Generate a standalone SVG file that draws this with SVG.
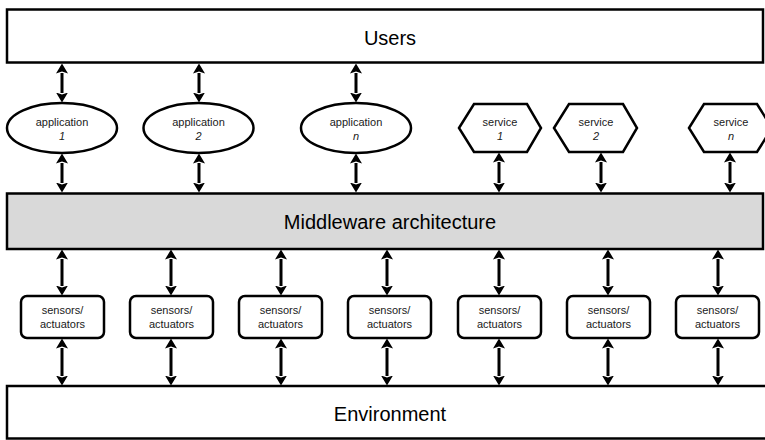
<svg xmlns="http://www.w3.org/2000/svg" width="765" height="440" viewBox="0 0 765 440">
  <style>
    .layer { fill: #ffffff; stroke: #000000; stroke-width: 2.5; }
    .mid { fill: #d9d9d9; stroke: #000000; stroke-width: 2.5; }
    .shape { fill: #ffffff; stroke: #000000; stroke-width: 2.5; }
    .big { font-family: "Liberation Sans", Arial, sans-serif; font-size: 20px; fill: #000000; text-anchor: middle; }
    .small { font-family: "Liberation Sans", Arial, sans-serif; font-size: 11px; fill: #1a1a1a; text-anchor: middle; }
    .idx { font-style: italic; }
    .link { stroke: #000000; stroke-width: 3; fill: none; marker-start: url(#head); marker-end: url(#head); }
  </style>
  <defs>
    <marker id="head" markerUnits="userSpaceOnUse" markerWidth="10" markerHeight="12" viewBox="0 0 10 12" refX="0.5" refY="6" orient="auto-start-reverse">
      <path d="M0,0 L10,6 L0,12 L2,6 z" fill="#000000"/>
    </marker>
  </defs>

  <!-- top layer -->
  <g id="users">
    <rect class="layer" x="7" y="9.5" width="756" height="53"/>
    <text class="big" x="390" y="45">Users</text>
  </g>

  <!-- applications -->
  <g id="app1">
    <ellipse class="shape" cx="62" cy="128" rx="55" ry="25"/>
    <text class="small" x="62" y="126">application</text>
    <text class="small idx" x="62" y="140">1</text>
  </g>
  <g id="app2">
    <ellipse class="shape" cx="198.5" cy="128" rx="55" ry="25"/>
    <text class="small" x="198.5" y="126">application</text>
    <text class="small idx" x="198.5" y="140">2</text>
  </g>
  <g id="appn">
    <ellipse class="shape" cx="356" cy="128" rx="55" ry="25"/>
    <text class="small" x="356" y="126">application</text>
    <text class="small idx" x="356" y="140">n</text>
  </g>

  <!-- services -->
  <g id="service1">
    <polygon class="shape" points="459,128 474,104 527,104 541,128 527,152 474,152"/>
    <text class="small" x="500" y="126">service</text>
    <text class="small idx" x="500" y="140">1</text>
  </g>
  <g id="service2">
    <polygon class="shape" points="554,128 569,104 623,104 637,128 623,152 569,152"/>
    <text class="small" x="596" y="126">service</text>
    <text class="small idx" x="596" y="140">2</text>
  </g>
  <g id="servicen">
    <polygon class="shape" points="689,128 704,104 757,104 772,128 757,152 704,152"/>
    <text class="small" x="731" y="126">service</text>
    <text class="small idx" x="731" y="140">n</text>
  </g>

  <!-- middleware layer -->
  <g id="middleware">
    <rect class="mid" x="7" y="193.5" width="756" height="55.5"/>
    <text class="big" x="390" y="229">Middleware architecture</text>
  </g>

  <!-- sensors / actuators -->
  <g id="sa1">
    <rect class="shape" x="21" y="296" width="83" height="42" rx="6"/>
    <text class="small" x="62.5" y="314">sensors/</text>
    <text class="small" x="62.5" y="328">actuators</text>
  </g>
  <g id="sa2">
    <rect class="shape" x="130" y="296" width="83" height="42" rx="6"/>
    <text class="small" x="171.5" y="314">sensors/</text>
    <text class="small" x="171.5" y="328">actuators</text>
  </g>
  <g id="sa3">
    <rect class="shape" x="239" y="296" width="83" height="42" rx="6"/>
    <text class="small" x="280.5" y="314">sensors/</text>
    <text class="small" x="280.5" y="328">actuators</text>
  </g>
  <g id="sa4">
    <rect class="shape" x="348" y="296" width="83" height="42" rx="6"/>
    <text class="small" x="389.5" y="314">sensors/</text>
    <text class="small" x="389.5" y="328">actuators</text>
  </g>
  <g id="sa5">
    <rect class="shape" x="458" y="296" width="83" height="42" rx="6"/>
    <text class="small" x="499.5" y="314">sensors/</text>
    <text class="small" x="499.5" y="328">actuators</text>
  </g>
  <g id="sa6">
    <rect class="shape" x="567" y="296" width="83" height="42" rx="6"/>
    <text class="small" x="608.5" y="314">sensors/</text>
    <text class="small" x="608.5" y="328">actuators</text>
  </g>
  <g id="sa7">
    <rect class="shape" x="676" y="296" width="83" height="42" rx="6"/>
    <text class="small" x="717.5" y="314">sensors/</text>
    <text class="small" x="717.5" y="328">actuators</text>
  </g>

  <!-- bottom layer -->
  <g id="environment">
    <rect class="layer" x="7" y="386" width="772" height="52.5"/>
    <text class="big" x="390" y="421">Environment</text>
  </g>

  <!-- double-headed connectors (heads extend 9.5px past each end) -->
  <g id="connectors">
    <line class="link" x1="62" y1="73" x2="62" y2="93"/>
    <line class="link" x1="199" y1="73" x2="199" y2="93"/>
    <line class="link" x1="356" y1="73" x2="356" y2="93"/>

    <line class="link" x1="62" y1="163" x2="62" y2="183"/>
    <line class="link" x1="199" y1="163" x2="199" y2="183"/>
    <line class="link" x1="356" y1="163" x2="356" y2="183"/>
    <line class="link" x1="499" y1="162" x2="499" y2="183"/>
    <line class="link" x1="601" y1="162" x2="601" y2="183"/>
    <line class="link" x1="730" y1="162" x2="730" y2="183"/>

    <line class="link" x1="62" y1="259" x2="62" y2="286"/>
    <line class="link" x1="171" y1="259" x2="171" y2="286"/>
    <line class="link" x1="281" y1="259" x2="281" y2="286"/>
    <line class="link" x1="387" y1="259" x2="387" y2="286"/>
    <line class="link" x1="499" y1="259" x2="499" y2="286"/>
    <line class="link" x1="608" y1="259" x2="608" y2="286"/>
    <line class="link" x1="718" y1="259" x2="718" y2="286"/>

    <line class="link" x1="62" y1="348" x2="62" y2="376"/>
    <line class="link" x1="171" y1="348" x2="171" y2="376"/>
    <line class="link" x1="281" y1="348" x2="281" y2="376"/>
    <line class="link" x1="387" y1="348" x2="387" y2="376"/>
    <line class="link" x1="499" y1="348" x2="499" y2="376"/>
    <line class="link" x1="608" y1="348" x2="608" y2="376"/>
    <line class="link" x1="718" y1="348" x2="718" y2="376"/>
  </g>
</svg>
